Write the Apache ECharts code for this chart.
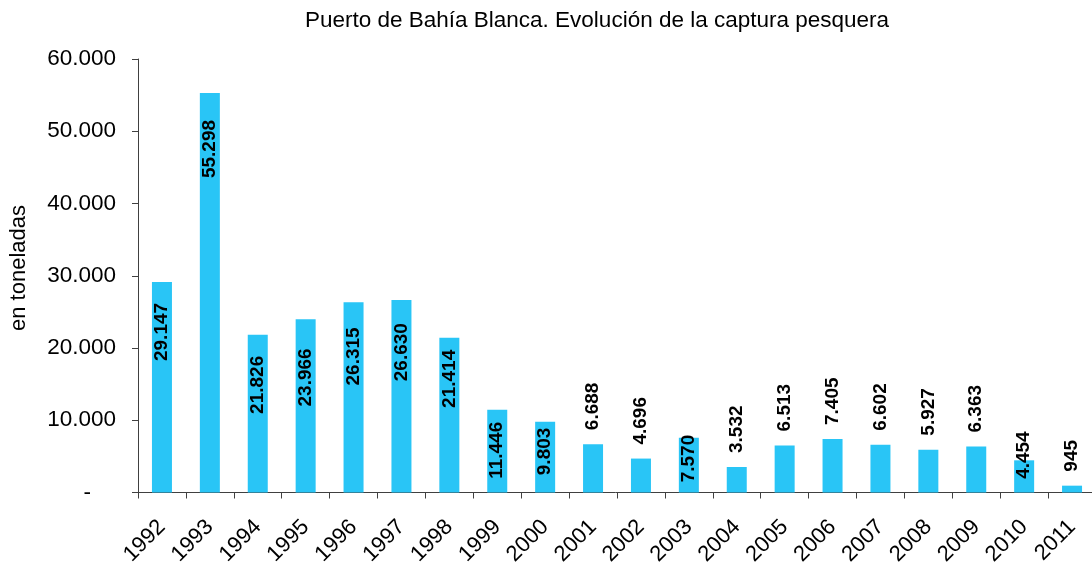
<!DOCTYPE html>
<html>
<head>
<meta charset="utf-8">
<script src="https://cdn.jsdelivr.net/npm/echarts@6/dist/echarts.min.js"></script>
<style>html,body{margin:0;padding:0;background:#fff}#c{width:1092px;height:564px}</style>
</head>
<body>
<div id="c"></div>
<script>
const years = ['1992','1993','1994','1995','1996','1997','1998','1999','2000','2001','2002','2003','2004','2005','2006','2007','2008','2009','2010','2011'];
const captura = [29147,55298,21826,23966,26315,26630,21414,11446,9803,6688,4696,7570,3532,6513,7405,6602,5927,6363,4454,945];
const yTicks = [0,10000,20000,30000,40000,50000,60000];

// label placement style: number = inside, distance from bar top; null = above bar
const labelInside = [21,27,21,29,25,23,12,12,6,null,null,-3,null,null,null,null,null,null,-29,null];

const fmt = v => String(v).replace(/\B(?=(\d{3})+(?!\d))/g, '.');
const FONT = '"Liberation Sans", Arial, sans-serif';

const data = captura.map((v, i) => {
  const d = labelInside[i];
  const label = d === null
    ? {position: 'top', distance: 14, align: 'left'}
    : {position: 'insideTop', distance: d, align: 'right'};
  return {value: v, label: label};
});

const chart = echarts.init(document.getElementById('c'), null, {renderer: 'canvas'});
chart.setOption({
  animation: false,
  title: {
    text: 'Puerto de Bahía Blanca. Evolución de la captura pesquera',
    left: 592, top: 4, textAlign: 'center',
    textStyle: {fontFamily: FONT, fontSize: 22.5, fontWeight: 'normal', color: '#000'}
  },
  grid: {left: 138, right: -4, top: 59, bottom: 71.5, containLabel: false, outerBoundsMode: 'none'},
  xAxis: {
    type: 'category', data: years,
    axisLine: {lineStyle: {color: '#404040', width: 1}},
    axisTick: {show: true, length: 6, alignWithLabel: false, lineStyle: {color: '#404040'}},
    axisLabel: {interval: 0, rotate: 45, margin: 31, fontFamily: FONT, fontSize: 22, color: '#000'}
  },
  yAxis: {
    type: 'value', min: yTicks[0], max: yTicks[yTicks.length - 1], interval: yTicks[1] - yTicks[0],
    splitLine: {show: false},
    axisLine: {show: true, lineStyle: {color: '#404040', width: 1}},
    axisTick: {show: true, length: 6, lineStyle: {color: '#404040'}},
    axisLabel: {
      margin: 22, fontFamily: FONT, fontSize: 22.5, color: '#000',
      formatter: v => v === 0 ? '-    ' : fmt(v)
    }
  },
  graphic: [{
    type: 'text', x: 19, y: 268, rotation: Math.PI / 2,
    style: {text: 'en toneladas', fontFamily: FONT, fontSize: 22, fill: '#000', align: 'center', verticalAlign: 'middle'}
  }],
  series: [{
    type: 'bar', data: data, barWidth: 20,
    itemStyle: {color: '#29C5F6'},
    label: {
      show: true, rotate: 90, verticalAlign: 'middle',
      fontFamily: FONT, fontSize: 19, fontWeight: 'bold', color: '#000',
      formatter: p => fmt(p.value)
    }
  }]
});
</script>
</body>
</html>
